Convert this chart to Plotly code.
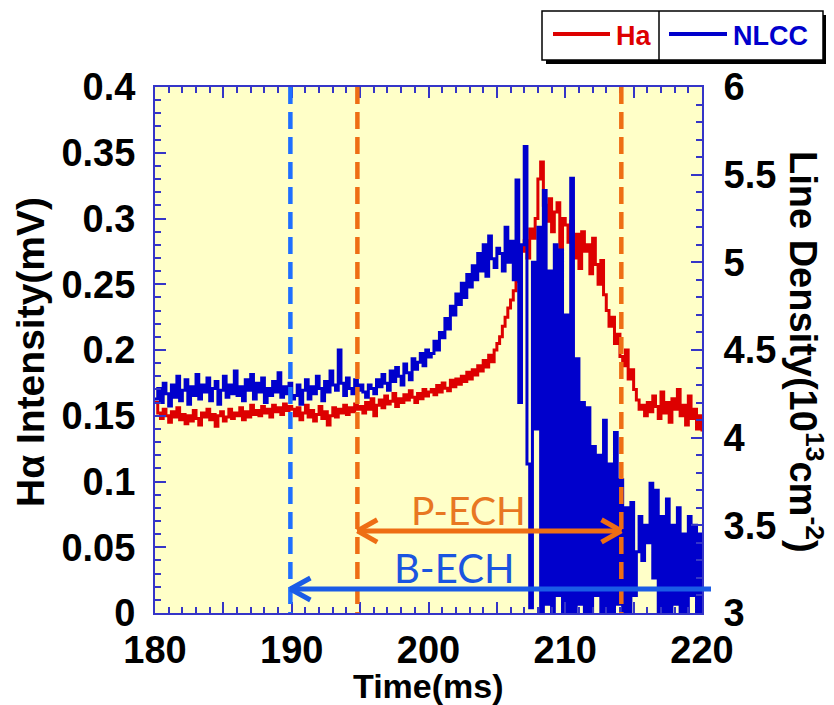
import numpy as np
import plotly.graph_objects as go

# ---------------- data ----------------
time_ms = np.round(np.arange(180.0, 220.0001, 0.2), 1)   # sampling grid, 0.2 ms

# H-alpha intensity (mV), left axis
ha = [
    .160, .152, .148, .155, .150, .145, .153, .149, .156, .147,
    .151, .144, .150, .146, .154, .148, .143, .152, .149, .155,
    .147, .151, .142, .150, .153, .146, .149, .155, .148, .152,
    .150, .156, .147, .153, .149, .158, .151, .154, .150, .157,
    .152, .155, .149, .158, .153, .156, .151, .159, .154, .157,
    .155,
    .150, .156, .147, .152, .158, .149, .154, .146, .151, .157,
    .148, .153, .143, .150, .156, .149, .155, .152, .158, .151,
    .156, .153, .159, .155, .157,
    .152, .160, .155, .163, .150, .158, .162, .156, .165, .159,
    .161, .167, .157, .163, .160, .166, .162, .169, .164, .160,
    .167, .163, .170, .165, .168,
    .170, .166, .173, .168, .175, .171, .169, .177, .172, .178,
    .174, .180, .176, .183, .178, .185, .181, .188, .184, .192,
    .187, .196, .191, .200, .205,
    .210, .218, .225, .232, .238, .245, .252, .262, .275, .283,
    .270, .292, .285, .300, .330, .343, .310, .298, .315, .290,
    .305, .312, .268, .300, .295,
    .282, .298, .270, .288, .262, .290, .275, .280, .258, .285,
    .265, .250, .268, .242, .230, .218, .225, .205, .212, .195,
    .188, .200, .178, .185, .170,
    .162, .155, .158, .150, .160, .153, .165, .157, .148, .168,
    .152, .160, .145, .163, .155, .170, .150, .158, .143, .165,
    .148, .155, .140, .150, .138,
]

# NLCC line density (10^13 cm^-2), right axis
nlcc = [
    4.22, 4.28, 4.20, 4.31, 4.25, 4.18, 4.30, 4.23, 4.35, 4.21,
    4.27, 4.33, 4.19, 4.29, 4.24, 4.36, 4.22, 4.30, 4.26, 4.34,
    4.21, 4.28, 4.32, 4.19, 4.27, 4.35, 4.23, 4.30, 4.25, 4.38,
    4.24, 4.29, 4.21, 4.33, 4.27, 4.36, 4.22, 4.31, 4.26, 4.34,
    4.20, 4.28, 4.24, 4.32, 4.26, 4.37, 4.23, 4.29, 4.25, 4.31,
    4.22,
    4.24, 4.30, 4.19, 4.27, 4.33, 4.22, 4.29, 4.25, 4.35, 4.28,
    4.21, 4.32, 4.26, 4.38, 4.30, 4.27, 4.50, 4.31, 4.24, 4.34,
    4.28, 4.25, 4.33, 4.27, 4.30,
    4.26, 4.23, 4.30, 4.28, 4.25, 4.33, 4.29, 4.36, 4.31, 4.27,
    4.38, 4.32, 4.40, 4.35, 4.30, 4.42, 4.37, 4.33, 4.45, 4.39,
    4.43, 4.48, 4.41, 4.50, 4.46,
    4.48, 4.55, 4.50, 4.60, 4.57, 4.68, 4.62, 4.75, 4.70, 4.82,
    4.76, 4.88, 4.80, 4.93, 4.86, 4.98, 4.90, 5.05, 4.95, 5.10,
    4.92, 5.15, 5.02, 4.97, 5.08,
    5.05, 4.95, 5.20, 5.00, 5.12, 4.90, 5.47, 4.20, 5.10, 5.66,
    3.85, 3.03, 5.00, 4.05, 5.20, 2.95, 5.41, 3.05, 4.95, 2.95,
    5.10, 3.10, 5.07, 2.95, 4.70,
    3.00, 5.48, 2.95, 4.45, 3.05, 4.20, 2.95, 4.17, 3.00, 3.95,
    3.10, 3.90, 2.95, 4.10, 3.00, 3.85, 2.95, 4.03, 3.05, 3.76,
    2.95, 3.60, 3.00, 3.63, 3.10,
    3.35, 3.55, 3.30, 3.50, 3.40, 3.74, 3.20, 3.70, 2.95, 3.55,
    3.00, 3.65, 2.95, 3.50, 3.05, 3.60, 3.00, 3.45, 2.95, 3.55,
    3.10, 3.50, 2.95, 3.45, 3.00,
]

x_ticks = [180, 185, 190, 195, 200, 205, 210, 215, 220]
x_ticktext = ["180", "", "190", "", "200", "", "210", "", "220"]
y_ticks = [0, 0.05, 0.1, 0.15, 0.2, 0.25, 0.3, 0.35, 0.4]
y_ticktext = ["0", "0.05", "0.1", "0.15", "0.2", "0.25", "0.3", "0.35", "0.4"]
y2_ticks = [3, 3.5, 4, 4.5, 5, 5.5, 6]
y2_ticktext = ["3", "3.5", "4", "4.5", "5", "5.5", "6"]

b_ech_start = 189.9      # B-ECH start (ms)
p_ech_start = 194.8      # P-ECH start (ms)
p_ech_end = 214.1        # P-ECH end (ms)

# ---------------- styles ----------------
OFF = 8                          # page body margin of the html page
W, H = 834 - OFF, 705 - OFF
ML, MR, MT, MB = 155 - OFF, 132, 87 - OFF, 92
PW, PH = W - ML - MR, H - MT - MB
FONT = "Liberation Sans, Arial, sans-serif"
AX = "#3535C8"
RED = "#DD0000"
BLUE = "#0000CC"
ORANGE = "#EE6E14"
DBLUE = "#1F6FFF"
ABLUE = "#1A5CE6"


def px(xp):
    """page pixel x -> paper fraction"""
    return (xp - OFF - ML) / PW


def py(yp):
    """page pixel y -> paper fraction"""
    return (H + OFF - MB - yp) / PH


fig = go.Figure()
fig.add_trace(go.Scatter(x=time_ms, y=ha, mode="lines", name="Ha",
                         line=dict(color=RED, width=3, shape="hv"), yaxis="y"))
fig.add_trace(go.Scatter(x=time_ms, y=nlcc, mode="lines", name="NLCC",
                         line=dict(color=BLUE, width=3, shape="hv"), yaxis="y2"))

shapes = []
# vertical dashed markers
for xv, col in [(b_ech_start, DBLUE), (p_ech_start, ORANGE), (p_ech_end, ORANGE)]:
    shapes.append(dict(type="line", xref="x", yref="paper", x0=xv, x1=xv, y0=1, y1=0,
                       line=dict(color=col, width=4.5, dash="17px,8px")))

# P-ECH double arrow
ya = 0.0624
dxh, dyh = 1.45, 0.0085
shapes.append(dict(type="line", xref="x", yref="y", x0=p_ech_start, x1=p_ech_end, y0=ya, y1=ya,
                   line=dict(color=ORANGE, width=5)))
for tip, sgn in [(p_ech_start, 1), (p_ech_end, -1)]:
    for s in (1, -1):
        shapes.append(dict(type="line", xref="x", yref="y", x0=tip, y0=ya,
                           x1=tip + sgn * dxh, y1=ya + s * dyh,
                           line=dict(color=ORANGE, width=5)))
# B-ECH arrow (extends a little past the right axis)
yb = py(589)
xb = (b_ech_start - 180) / 40
shapes.append(dict(type="line", xref="paper", yref="paper",
                   x0=xb, x1=px(711), y0=yb, y1=yb,
                   line=dict(color=ABLUE, width=5)))
for s in (1, -1):
    shapes.append(dict(type="line", xref="paper", yref="paper",
                       x0=xb, y0=yb, x1=xb + 20 / PW, y1=yb + s * 11 / PH,
                       line=dict(color=ABLUE, width=5)))

# custom legend box with shadow and divider
shapes.append(dict(type="rect", xref="paper", yref="paper", x0=px(546), x1=px(827),
                   y0=py(64), y1=py(15), fillcolor="black", line=dict(width=0)))
shapes.append(dict(type="rect", xref="paper", yref="paper", x0=px(542), x1=px(823),
                   y0=py(60), y1=py(11), fillcolor="white", line=dict(color="black", width=1.5)))
shapes.append(dict(type="line", xref="paper", yref="paper", x0=px(659), x1=px(659),
                   y0=py(60), y1=py(11), line=dict(color="black", width=1.5)))
shapes.append(dict(type="line", xref="paper", yref="paper", x0=px(553), x1=px(610),
                   y0=py(34), y1=py(34), line=dict(color=RED, width=4)))
shapes.append(dict(type="line", xref="paper", yref="paper", x0=px(669), x1=px(727),
                   y0=py(34), y1=py(34), line=dict(color=BLUE, width=4)))

annotations = [
    dict(xref="paper", yref="paper", x=px(614), y=py(36), text="Ha", showarrow=False,
         xanchor="left", yanchor="middle",
         font=dict(family=FONT, size=27, color=RED, weight="bold")),
    dict(xref="paper", yref="paper", x=px(731), y=py(36), text="NLCC", showarrow=False,
         xanchor="left", yanchor="middle",
         font=dict(family=FONT, size=27, color=BLUE, weight="bold")),
    dict(xref="x", yref="y", x=202.96, y=0.0783, text="P-ECH", showarrow=False,
         xanchor="center", yanchor="middle",
         font=dict(family="Lato, Open Sans, sans-serif", size=39, color="#E87722")),
    dict(xref="x", yref="y", x=201.9, y=0.0342, text="B-ECH", showarrow=False,
         xanchor="center", yanchor="middle",
         font=dict(family="Lato, Open Sans, sans-serif", size=40, color="#1A55E0")),
    dict(xref="paper", yref="paper", x=px(806), y=py(352), textangle=90,
         text="Line Density(10<sup>13</sup>cm<sup>-2</sup>)", showarrow=False,
         xanchor="center", yanchor="middle",
         font=dict(family=FONT, size=38, color="black", weight="bold")),
    dict(xref="paper", yref="paper", x=0.5, y=py(686), text="Time(ms)", showarrow=False,
         xanchor="center", yanchor="middle",
         font=dict(family=FONT, size=34, color="black", weight="bold")),
    dict(xref="paper", yref="paper", x=px(31), y=py(352), textangle=-90,
         text="Hα Intensity(mV)", showarrow=False,
         xanchor="center", yanchor="middle",
         font=dict(family=FONT, size=39, color="black", weight="bold")),
]

tickfont = dict(family=FONT, size=38, color="black", weight="bold")

fig.update_layout(
    width=W, height=H,
    margin=dict(l=ML, r=MR, t=MT, b=MB, pad=0),
    paper_bgcolor="white", plot_bgcolor="#FFFFC8",
    showlegend=False,
    shapes=shapes, annotations=annotations,
    xaxis=dict(range=[180, 220], tickmode="array", tickvals=x_ticks, ticktext=x_ticktext,
               ticks="inside", ticklen=11, tickwidth=1.5, tickcolor=AX,
               minor=dict(tickmode="linear", tick0=180, dtick=1, ticks="inside",
                          ticklen=6, tickwidth=1.5, tickcolor=AX, showgrid=False),
               showline=True, linecolor=AX, linewidth=2, mirror="ticks",
               showgrid=False, zeroline=False, tickfont=tickfont, ticklabelstandoff=2),
    yaxis=dict(range=[0, 0.4], tickmode="array", tickvals=y_ticks, ticktext=y_ticktext,
               ticks="inside", ticklen=11, tickwidth=1.5, tickcolor=AX,
               minor=dict(tickmode="linear", tick0=0, dtick=0.01, ticks="inside",
                          ticklen=6, tickwidth=1.5, tickcolor=AX, showgrid=False),
               showline=True, linecolor=AX, linewidth=2,
               showgrid=False, zeroline=False, tickfont=tickfont, ticklabelstandoff=10),
    yaxis2=dict(range=[3, 6], overlaying="y", side="right", anchor="x",
                tickmode="array", tickvals=y2_ticks, ticktext=y2_ticktext,
                ticks="inside", ticklen=11, tickwidth=1.5, tickcolor=AX,
                minor=dict(tickmode="linear", tick0=3, dtick=0.1, ticks="inside",
                           ticklen=6, tickwidth=1.5, tickcolor=AX, showgrid=False),
                showline=True, linecolor=AX, linewidth=2,
                showgrid=False, zeroline=False, tickfont=tickfont, ticklabelstandoff=12),
)

fig.write_html("out.html")
